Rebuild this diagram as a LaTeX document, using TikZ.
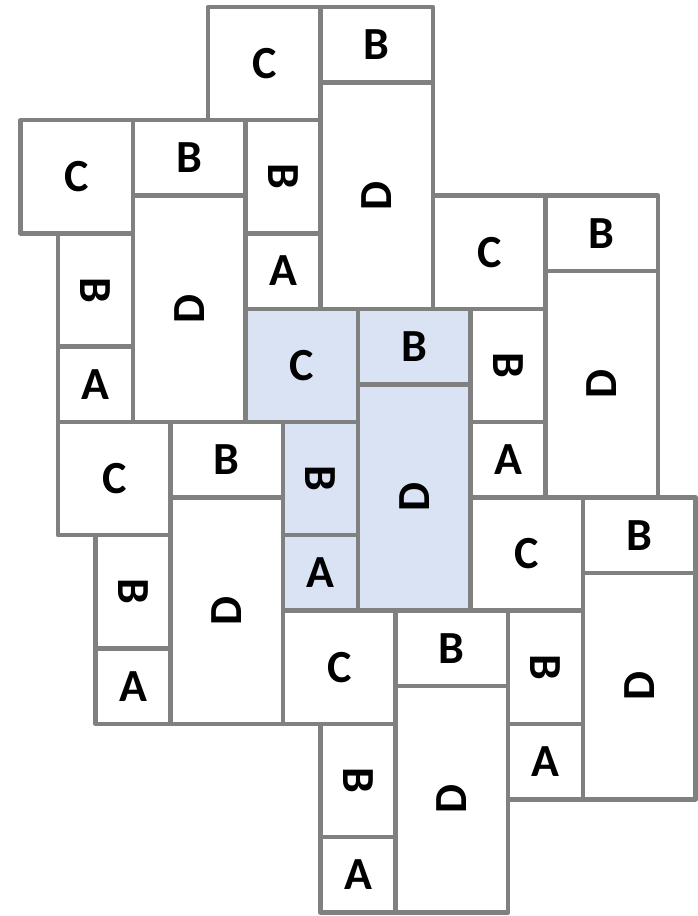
\documentclass[tikz,border=0pt]{standalone}
\usepackage{fontspec}
\setmainfont{Carlito}
\definecolor{tilegray}{HTML}{808080}
\definecolor{tileblue}{HTML}{DAE3F3}
\begin{document}
\begin{tikzpicture}[x=37.5pt,y=-37.73pt,
  tile/.style={draw=tilegray, line width=4.5pt, line join=round, anchor=north west,
    inner sep=0pt, outer sep=0pt, font=\bfseries\fontsize{46}{46}\selectfont},
  cbox/.style={tile, minimum width=112.5pt, minimum height=113.19pt},
  bbox/.style={tile, minimum width=112.5pt, minimum height=75.46pt},
  dbox/.style={tile, minimum width=112.5pt, minimum height=226.38pt},
  vbox/.style={tile, minimum width=75pt, minimum height=113.19pt},
  abox/.style={tile, minimum width=75pt, minimum height=75.46pt}]
\useasboundingbox (-6.5467,-8.184) rectangle (12.04,16.093);
\foreach \n/\gx/\gy/\fc in {u1/-1/-8/white, u2/-6/-5/white, u3/5/-3/white,
    u4/0/0/tileblue, u5/-5/3/white, u6/6/5/white, u7/1/8/white}{
  \begin{scope}[shift={(\gx,\gy)}]
    \node[cbox, fill=\fc] (\n-C) at (0,0) {C};
    \node[bbox, fill=\fc] (\n-B) at (3,0) {B};
    \node[dbox, fill=\fc] (\n-D) at (3,2) {\rotatebox{90}{D}};
    \node[vbox, fill=\fc] (\n-V) at (1,3) {\rotatebox{-90}{B}};
    \node[abox, fill=\fc] (\n-A) at (1,6) {A};
  \end{scope}
}
\end{tikzpicture}
\end{document}
